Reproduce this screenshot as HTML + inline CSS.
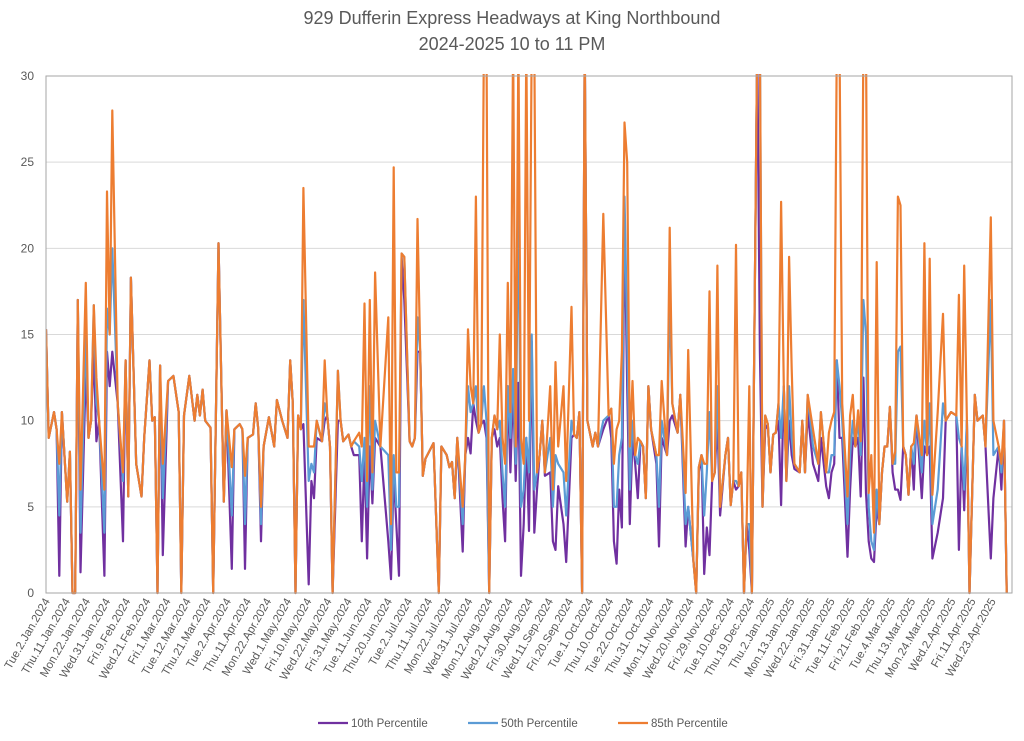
<!DOCTYPE html>
<html><head><meta charset="utf-8">
<style>
html,body{margin:0;padding:0;background:#fff;}
body{width:1024px;height:736px;overflow:hidden;font-family:"Liberation Sans",sans-serif;}
svg text{font-family:"Liberation Sans",sans-serif;fill:#595959;}
</style></head>
<body>
<svg id="chart" width="1024" height="736" viewBox="0 0 1024 736" xmlns="http://www.w3.org/2000/svg">
  <rect x="0" y="0" width="1024" height="736" fill="#fff"/>
  <text x="512" y="24" text-anchor="middle" font-size="18">929 Dufferin Express Headways at King Northbound</text>
  <text x="512" y="50" text-anchor="middle" font-size="18">2024-2025 10 to 11 PM</text>
  <g id="grid"></g>
  <g id="yaxis"></g>
  <g id="xaxis"></g>
  <defs><clipPath id="plotclip"><rect x="46" y="74" width="966" height="522"/></clipPath></defs>
  <g id="series" clip-path="url(#plotclip)"></g>
  <rect x="46" y="76" width="966" height="517" fill="none" stroke="#a6a6a6" stroke-width="1"/>
  <g id="legend"></g>
</svg>
<script>
const dayIndex = [
0,1,3,4,5,6,8,9,10,11, 12,13,15,16,17,18,19,20,22,23, 24,25,27,29,30,31,32,34,36,37,
39,40,41,42,43,44,46,48,50,51, 52,54,56,57,58,59,60,62,63,65, 67,68,70,71,73,74,75,76,78,79,
80,81,82,84,86,87,89,91,92,93, 94,95,96,97,99,100,101,102,104,105, 106,107,108,110,111,112,114,115,116,118,
119,120,121,122,123,124,126,129,130,131, 132,133,134,135,137,138,139,140,141,142, 143,146,148,149,151,152,153,154,155,157,
158,159,160,161,162,163,164,165,166,167, 168,169,170,171,172,173,174,175,176,177, 178,179,180,181,182,183,184,185,186,187,
188,190,191,192,193,195,196,198,199,200, 201,202,203,204,206,207,208,210,212,213, 214,215,216,217,218,219,220,221,222,223,
224,225,226,227,228,230,231,232,234,235, 236,238,239,241,242,244,245,246,247,248, 249,250,251,252,253,254,256,257,258,259,
260,261,262,263,264,265,266,268,269,270, 271,272,273,274,275,276,277,278,279,280, 281,282,284,285,286,287,289,291,292,294,
295,296,297,298,299,300,302,303,304,305, 306,307,308,309,310,311,312,313,314,315, 316,317,318,319,320,321,322,323,324,325,
326,327,328,330,331,332,333,334,336,338, 339,341,343,344,345,346,347,348,350,351, 353,354,356,357,359,360,361,362];
const p85 = [
15.3,9,10.5,9.5,7.5,10.5,5.3,8.2,0,0, 17,6,18,9,10,16.7,12.5,10,6,23.3, 15,28,11,7,13.5,5.6,18.3,7.5,5.6,9,
13.5,10,10.2,0,13.2,7.5,12.3,12.6,10.5,0, 10.3,12.6,10,11.5,10.3,11.8,10,9.6,0,20.3, 5.3,10.6,7.3,9.5,9.8,9.5,6.8,9,9.2,11,
9.5,5,8.5,10.2,8.5,11.2,10,9,13.5,11, 0,10.3,9.5,23.5,8.5,8.5,8.5,10,8.8,13.5, 10.3,8.5,0,12.9,10,8.8,9.2,8.5,8.8,9.3,
8.5,16.8,6.5,17,7,18.6,8.5,16,4,24.7, 7,7,19.7,19.5,8.8,8.5,9,21.7,14,6.8, 7.8,8.7,0,8.5,8,7.3,7.6,5.5,9,5,
8,15.3,12,11,23,9.3,9.8,32,32,0, 9,10.3,9.5,15,9,7.5,18,10.5,32,8.5, 32,9,7.5,32,10,32,32,7,8,10,
7,12,6,13.4,8.5,12,6.5,16.6,9.2,9, 10.5,0,32,10,8.5,9.3,8.5,22,10.3,10.7, 7.5,9.5,10,14,27.3,25,8.5,12.3,8,9,
8.8,8.5,5.5,12,9.5,8,8,12.3,8,21.2, 11,9.3,11.5,5.8,14.1,1.8,0,7.3,8,7.5, 7.5,17.5,6.5,7,19,5,8,9,5.1,6.5,
20.2,6.2,7,0,4,12,0,32,32,5, 10.3,9.8,7,9.2,9.3,11,22.7,12,6.5,19.5, 13,7.5,7,10,7,11.5,9.5,7.5,10.5,7,
9.3,10,10.5,32,32,11,5.6,10.3,11.5,8.5, 10.6,8.8,32,32,5.8,8,3.5,19.2,4,7, 8.5,8.5,10.8,7.5,8.2,23,22.5,8.5,8,5.7,
8.5,8.7,10.3,8,20.3,8,19.4,5.7,10.5,16.2, 10,10.5,10.3,17.3,8.5,19,10,0,11.5,10, 10.3,8.5,21.8,10,8.5,7.5,10,0];
const p50 = [
15.3,9,10.5,9.5,4.5,10.5,5.3,8.2,0,0, 17,3.5,15,9,10,16.7,11,10,3.5,16.5, 15,20,11,6.5,13.5,5.6,18.3,7.5,5.6,9,
13.5,10,10.2,0,13.2,5.5,12.3,12.6,10.5,0, 10.3,12.6,10,11.5,10.3,11.8,10,9.6,0,20.3, 5.3,10.6,4.5,9.5,9.8,9.5,4,9,9.2,11,
9.5,4,8.5,10.2,8.5,11.2,10,9,13.5,11, 0,10.3,9.5,17,6.5,7.5,7,10,8.8,11, 10.3,8.5,0,12.9,10,8.8,9.2,8.5,8.8,8.5,
6.5,9,5,12,6,10,8.5,8,2.5,8, 5,5,19.7,19.5,8.8,8.5,9,16,14,6.8, 7.8,8.7,0,8.5,8,7.3,7.6,5.5,9,4,
8,12,10.5,11,12,9.3,9.8,12,10,0, 9,10.3,9.5,10,7,5,12,9,13,7.5, 23.7,5,6,9,7,15,6,7,8,10,
7,9,5,8,7.5,7,4.5,10,9.2,9, 10.5,0,32,10,8.5,9.3,8.5,10,10.3,10.7, 5,5,8,9,23,15,6,10,8,7.5,
8.8,8.5,5.5,12,9.5,8,5,10,8,17.5, 11,9.3,11.5,4,5,1.8,0,7.3,8,4.5, 7,10.5,6.5,7,12,5,8,9,5.1,6.5,
6.5,6.2,7,0,4,4,0,32,32,5, 10.3,9.8,7,9.2,9.3,11,9,12,6.5,12, 9,7.5,7,10,7,11.5,8.5,7.5,10.5,7,
7,8,8,13.5,12,10,4,8,10,8.5, 10,8,17,15,5,3,2.5,6,4,7, 8.5,8.5,10.8,7.5,7.5,14,14.3,8.5,8,5.7,
8.5,7.5,10.3,7,10,8,11,4,6,11, 10,10.5,10.3,9,8.5,6,10,0,11.5,10, 10.3,8.5,17,8,8.5,7,10,0];
const p10 = [
15.3,9,10.5,9.5,1,10.5,5.3,8.2,0,0, 17,1.2,13,9,10,14,8.8,10,1,14, 12,14,11,3,13.5,5.6,18.3,7.5,5.6,9,
13.5,10,10.2,0,13.2,2.2,12.3,12.6,10.5,0, 10.3,12.6,10,11.5,10.3,11.8,10,9.6,0,20.3, 5.3,10.6,1.4,9.5,9.8,9.5,1.4,9,9.2,11,
9.5,3,8.5,10.2,8.5,11.2,10,9,13.5,11, 0,10.3,9.5,9.8,0.5,6.5,5.5,9,8.8,10, 10.3,8.5,0,10,10,8.8,9.2,8.5,8,8,
3,8,2,8.5,5.2,9,8.5,3,0.8,7, 4,1,19.5,17,8.8,8.5,9,14,14,6.8, 7.8,8.7,0,8.5,8,7.3,7.6,5.5,9,2.4,
8,9,8.1,11,10,9.3,9.8,10,9,0, 9,9.5,8.5,9,5.5,3,12,7,12,6.5, 12.2,1,4,9,3.6,14.6,3.5,6,8,10,
6.8,7,3,2.5,6.2,4,1.8,9,9.2,9, 10.5,0,32,10,8.5,9.3,8.5,9.5,10.3,9, 3,1.7,6,3.8,22,12,4,9,7.5,5.5,
8.8,8.5,5.5,12,9.5,7.5,2.7,9,8,10, 10.3,9.3,11.5,2.7,5,1.8,0,7,8,1.1, 3.8,2.2,6.5,7,10,4.5,8,9,5.1,6.5,
6,6.2,7,0,4,2.5,0,32,14,5, 9.5,9.8,7,9.2,9.3,10,5.1,12,6.5,10, 8,7.2,7,10,7,10.5,7.5,6.5,9,6.2,
5.5,7,7.5,13.5,9,9,2.1,6,9,8.5, 9,5.6,12.5,5.8,3,2,1.8,5,4,7, 8.5,8.5,10.8,7,6,6,5.4,8.5,8,5.7,
8.5,6,10.3,5.5,8.5,8,8.5,2,3.5,5.5, 10,10.5,10.3,2.5,8.5,4.8,10,0,11.5,10, 10.3,8.5,2,5.5,8.5,6,10,0];
const yTicks = [0,5,10,15,20,25,30];
const xLabels = ["Tue.2.Jan.2024","Thu.11.Jan.2024","Mon.22.Jan.2024","Wed.31.Jan.2024","Fri.9.Feb.2024","Wed.21.Feb.2024","Fri.1.Mar.2024","Tue.12.Mar.2024","Thu.21.Mar.2024","Tue.2.Apr.2024","Thu.11.Apr.2024","Mon.22.Apr.2024","Wed.1.May.2024","Fri.10.May.2024","Wed.22.May.2024","Fri.31.May.2024","Tue.11.Jun.2024","Thu.20.Jun.2024","Tue.2.Jul.2024","Thu.11.Jul.2024","Mon.22.Jul.2024","Wed.31.Jul.2024","Mon.12.Aug.2024","Wed.21.Aug.2024","Fri.30.Aug.2024","Wed.11.Sep.2024","Fri.20.Sep.2024","Tue.1.Oct.2024","Thu.10.Oct.2024","Tue.22.Oct.2024","Thu.31.Oct.2024","Mon.11.Nov.2024","Wed.20.Nov.2024","Fri.29.Nov.2024","Tue.10.Dec.2024","Thu.19.Dec.2024","Thu.2.Jan.2025","Mon.13.Jan.2025","Wed.22.Jan.2025","Fri.31.Jan.2025","Tue.11.Feb.2025","Fri.21.Feb.2025","Tue.4.Mar.2025","Thu.13.Mar.2025","Mon.24.Mar.2025","Wed.2.Apr.2025","Fri.11.Apr.2025","Wed.23.Apr.2025"];
const seriesNames = ["10th Percentile","50th Percentile","85th Percentile"];

const NS = "http://www.w3.org/2000/svg";
const PL = 46, PR = 1012, PT = 76, PB = 593;
const DOMAIN = 364;
function xScale(d){ return PL + d * (PR - PL) / DOMAIN; }
function yScale(v){ return PB - v * (PB - PT) / 30; }
function mk(tag, attrs, parent){ const e = document.createElementNS(NS, tag); for (const k in attrs) e.setAttribute(k, attrs[k]); parent.appendChild(e); return e; }

const grid = document.getElementById('grid');
const yaxis = document.getElementById('yaxis');
yTicks.forEach(v => {
  const y = yScale(v);
  const gl = mk('line', {x1: PL, x2: PR, y1: y, y2: y, stroke: '#d9d9d9', 'stroke-width': 1}, grid);
  
  
  const t = mk('text', {x: 34, y: y + 4, 'text-anchor': 'end', 'font-size': 12}, yaxis);
  t.textContent = String(v);
  
  
});

const xaxis = document.getElementById('xaxis');
const labelStep = 7 * DOMAIN / 336;
xLabels.forEach((lab, k) => {
  const x = xScale(k * labelStep + 0.5) + 3;
  const t = mk('text', {x: x, y: 601, 'text-anchor': 'end', 'font-size': 11.5, transform: 'rotate(-60 ' + x + ' 601)'}, xaxis);
  t.textContent = lab;
  
  
});

const series = document.getElementById('series');
const colors = ['#7030a0', '#5b9bd5', '#ed7d31'];
[p10, p50, p85].forEach((arr, si) => {
  const n = Math.min(arr.length, dayIndex.length);
  let d = '';
  for (let i = 0; i < n; i++) d += (i ? 'L' : 'M') + xScale(dayIndex[i]).toFixed(1) + ' ' + yScale(arr[i]).toFixed(1);
  const p = mk('path', {d: d, fill: 'none', stroke: colors[si], 'stroke-width': 2.2, 'stroke-linejoin': 'round'}, series);
  
  
});

const legend = document.getElementById('legend');
const legX = [318, 468, 618];
seriesNames.forEach((nm, i) => {
  const l = mk('line', {x1: legX[i], x2: legX[i] + 30, y1: 723, y2: 723, stroke: colors[i], 'stroke-width': 2.2}, legend);
  
  
  const t = mk('text', {x: legX[i] + 33, y: 727, 'font-size': 11.5}, legend);
  t.textContent = nm;
  
  
});
</script>
</body></html>
